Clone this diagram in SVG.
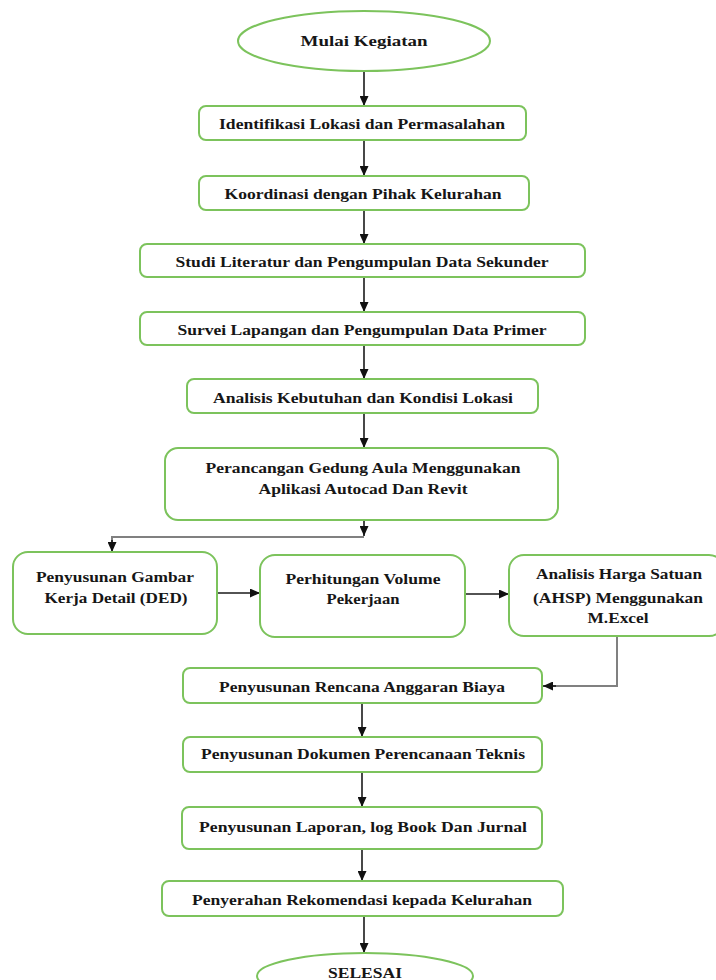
<svg xmlns="http://www.w3.org/2000/svg" width="716" height="980" viewBox="0 0 716 980">
<defs>
<marker id="ah" markerUnits="userSpaceOnUse" markerWidth="10" markerHeight="9" refX="10" refY="4.5" orient="auto">
<path d="M0,0 L10,4.5 L0,9 z" fill="#111"/>
</marker>
<style>
.n{fill:#fff;stroke:#7cc35c;stroke-width:2}
.t{font-family:"Liberation Serif","Times New Roman",serif;font-weight:bold;font-size:15.5px;fill:#161616;text-anchor:middle}
.c{fill:none;stroke:#1a1a1a;stroke-width:1.6}
.g{fill:none;stroke:#808080;stroke-width:2}
</style>
</defs>
<rect width="716" height="980" fill="#fff"/>
<g id="connectors">
<line class="c" x1="364" y1="71" x2="364" y2="106" marker-end="url(#ah)"/>
<line class="c" x1="364" y1="140" x2="364" y2="176" marker-end="url(#ah)"/>
<line class="c" x1="364" y1="210" x2="364" y2="244" marker-end="url(#ah)"/>
<line class="c" x1="364" y1="277" x2="364" y2="312" marker-end="url(#ah)"/>
<line class="c" x1="364" y1="345" x2="364" y2="379" marker-end="url(#ah)"/>
<line class="c" x1="364" y1="413" x2="364" y2="448" marker-end="url(#ah)"/>
<line class="c" x1="364" y1="520" x2="364" y2="536" marker-end="url(#ah)"/>
<polyline class="g" points="364,537 112,537 112,544"/>
<line class="c" x1="112" y1="540" x2="112" y2="552" marker-end="url(#ah)"/>
<line class="c" x1="217" y1="593" x2="260" y2="593" marker-end="url(#ah)"/>
<line class="c" x1="465" y1="594" x2="509" y2="594" marker-end="url(#ah)"/>
<polyline class="g" points="617,636 617,686 552,686"/>
<line class="c" x1="556" y1="686" x2="543" y2="686" marker-end="url(#ah)"/>
<line class="c" x1="362" y1="703" x2="362" y2="737" marker-end="url(#ah)"/>
<line class="c" x1="362" y1="772" x2="362" y2="807" marker-end="url(#ah)"/>
<line class="c" x1="362" y1="849" x2="362" y2="881" marker-end="url(#ah)"/>
<line class="c" x1="364" y1="916" x2="364" y2="953" marker-end="url(#ah)"/>
</g>
<g id="start">
<ellipse class="n" cx="364" cy="41" rx="126" ry="30"/>
<text class="t" x="364" y="46" textLength="127" lengthAdjust="spacingAndGlyphs">Mulai Kegiatan</text>
</g>
<g id="n1">
<rect class="n" x="199" y="106" width="327" height="34" rx="7"/>
<text class="t" x="362" y="129" textLength="286" lengthAdjust="spacingAndGlyphs">Identifikasi Lokasi dan Permasalahan</text>
</g>
<g id="n2">
<rect class="n" x="199" y="176" width="330" height="34" rx="7"/>
<text class="t" x="363" y="199" textLength="277" lengthAdjust="spacingAndGlyphs">Koordinasi dengan Pihak Kelurahan</text>
</g>
<g id="n3">
<rect class="n" x="140" y="244" width="445" height="33" rx="7"/>
<text class="t" x="362" y="267" textLength="373" lengthAdjust="spacingAndGlyphs">Studi Literatur dan Pengumpulan Data Sekunder</text>
</g>
<g id="n4">
<rect class="n" x="140" y="312" width="445" height="33" rx="7"/>
<text class="t" x="362" y="335" textLength="369" lengthAdjust="spacingAndGlyphs">Survei Lapangan dan Pengumpulan Data Primer</text>
</g>
<g id="n5">
<rect class="n" x="187" y="379" width="351" height="34" rx="7"/>
<text class="t" x="363" y="403" textLength="300" lengthAdjust="spacingAndGlyphs">Analisis Kebutuhan dan Kondisi Lokasi</text>
</g>
<g id="n6">
<rect class="n" x="165" y="448" width="393" height="72" rx="13"/>
<text class="t" x="363" y="473" textLength="315" lengthAdjust="spacingAndGlyphs">Perancangan Gedung Aula Menggunakan</text>
<text class="t" x="363" y="494" textLength="209" lengthAdjust="spacingAndGlyphs">Aplikasi Autocad Dan Revit</text>
</g>
<g id="n7">
<rect class="n" x="13" y="552" width="204" height="82" rx="15"/>
<text class="t" x="115" y="582" textLength="158" lengthAdjust="spacingAndGlyphs">Penyusunan Gambar</text>
<text class="t" x="116" y="603" textLength="143" lengthAdjust="spacingAndGlyphs">Kerja Detail (DED)</text>
</g>
<g id="n8">
<rect class="n" x="260" y="555" width="205" height="82" rx="15"/>
<text class="t" x="363" y="584" textLength="155" lengthAdjust="spacingAndGlyphs">Perhitungan Volume</text>
<text class="t" x="363" y="604" textLength="73" lengthAdjust="spacingAndGlyphs">Pekerjaan</text>
</g>
<g id="n9">
<rect class="n" x="509" y="555" width="215" height="81" rx="15"/>
<text class="t" x="619" y="579" textLength="166" lengthAdjust="spacingAndGlyphs">Analisis Harga Satuan</text>
<text class="t" x="618" y="603" textLength="170" lengthAdjust="spacingAndGlyphs">(AHSP) Menggunakan</text>
<text class="t" x="618" y="623" textLength="61" lengthAdjust="spacingAndGlyphs">M.Excel</text>
</g>
<g id="n10">
<rect class="n" x="183" y="668" width="359" height="35" rx="7"/>
<text class="t" x="362" y="692" textLength="286" lengthAdjust="spacingAndGlyphs">Penyusunan Rencana Anggaran Biaya</text>
</g>
<g id="n11">
<rect class="n" x="183" y="737" width="359" height="35" rx="7"/>
<text class="t" x="363" y="759" textLength="324" lengthAdjust="spacingAndGlyphs">Penyusunan Dokumen Perencanaan Teknis</text>
</g>
<g id="n12">
<rect class="n" x="182" y="807" width="360" height="42" rx="7"/>
<text class="t" x="363" y="832" textLength="328" lengthAdjust="spacingAndGlyphs">Penyusunan Laporan, log Book Dan Jurnal</text>
</g>
<g id="n13">
<rect class="n" x="162" y="881" width="401" height="35" rx="7"/>
<text class="t" x="362" y="905" textLength="340" lengthAdjust="spacingAndGlyphs">Penyerahan Rekomendasi kepada Kelurahan</text>
</g>
<g id="end">
<ellipse class="n" cx="365" cy="976" rx="108" ry="23"/>
<text class="t" x="365" y="978" textLength="74" lengthAdjust="spacingAndGlyphs">SELESAI</text>
</g>
</svg>
